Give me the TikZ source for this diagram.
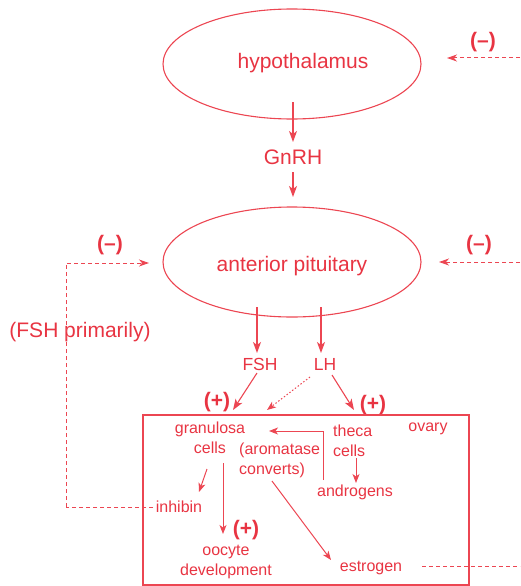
\documentclass[tikz,border=0pt]{standalone}
\usepackage{fontspec}
\setmainfont{Liberation Sans}
\usetikzlibrary{arrows.meta,shapes.geometric}
\definecolor{hred}{RGB}{232,52,66}
\definecolor{lred}{RGB}{236,70,82}
\tikzset{
  ell/.style={draw=lred, line width=1.1pt, ellipse, inner sep=0pt},
  big/.style={text=hred, font=\fontsize{21}{25}\selectfont, inner sep=0pt},
  mid/.style={text=hred, font=\fontsize{17.5}{21}\selectfont, inner sep=0pt},
  small/.style={text=hred, font=\fontsize{16}{19}\selectfont, inner sep=0pt, align=center},
  sign/.style={text=hred, font=\fontsize{21}{25}\selectfont\bfseries, inner sep=0pt},
  arr/.style={draw=lred, line width=1.1pt, -{Stealth[length=11pt,width=8pt,inset=3pt]}},
  sarr/.style={draw=lred, line width=1pt, -{Stealth[length=9pt,width=7pt,inset=2.5pt]}},
  darr/.style={draw=lred, line width=1pt, dash pattern=on 4pt off 3pt, -{Stealth[length=10pt,width=7pt,inset=3pt]}},
  dline/.style={draw=lred, line width=1pt, dash pattern=on 4pt off 3pt},
  dotarr/.style={draw=lred, line width=1pt, dash pattern=on 1.5pt off 2pt, -{Stealth[length=9pt,width=7pt,inset=2.5pt]}},
}
\begin{document}
\begin{tikzpicture}[x=1pt,y=-1pt]
\useasboundingbox (0,0) rectangle (520,586);
% ellipses
\node[ell, minimum width=258pt, minimum height=110pt] (hyp) at (292,64) {};
\node[big] (hyptxt) at (303,63) {hypothalamus};
\node[ell, minimum width=258pt, minimum height=110pt] (pit) at (292,262) {};
\node[big] (pittxt) at (292,266) {anterior pituitary};
\node[big] (gnrh) at (293,157) {GnRH};
\coordinate (h1) at (293,102);
\coordinate (h2) at (293,142);
\coordinate (g1) at (293,172);
\coordinate (g2) at (293,197);
\draw[arr] (h1) -- (h2);
\draw[arr] (g1) -- (g2);
% right negative feedback
\node[sign] (m1) at (483,42) {(–)};
\coordinate (r1a) at (520,58);
\coordinate (r1b) at (447,58);
\draw[darr] (r1a) -- (r1b);
\node[sign] (m2) at (479,245) {(–)};
\coordinate (r2a) at (520,262);
\coordinate (r2b) at (439,262);
\draw[darr] (r2a) -- (r2b);
% left feedback
\node[sign] (m3) at (110,245) {(–)};
\node[big] (fshp) at (80,332) {(FSH primarily)};
\coordinate (l0) at (153,507);
\coordinate (l1) at (66,507);
\coordinate (l2) at (66,263);
\coordinate (l3) at (149,263);
\draw[dline] (l0) -- (l1);
\draw[darr] (l1) -- (l2) -- (l3);
% FSH / LH
\node[mid] (fsh) at (260,364) {FSH};
\node[mid] (lh) at (325,364) {LH};
\coordinate (p1) at (257,307);
\coordinate (p1e) at (257,353);
\coordinate (p2) at (321,307);
\coordinate (p2e) at (321,353);
\draw[arr] (p1) -- (p1e);
\draw[arr] (p2) -- (p2e);
\coordinate (f1) at (257,373);
\coordinate (f2) at (233,410);
\draw[arr] (f1) -- (f2);
\node[sign] (pl1) at (217,402) {(+)};
\coordinate (d1) at (310,377);
\coordinate (d2) at (267,410);
\draw[dotarr] (d1) -- (d2);
\coordinate (t1) at (332,375);
\coordinate (t2) at (354,410);
\draw[arr] (t1) -- (t2);
\node[sign] (pl2) at (373,405) {(+)};
% ovary box
\draw[draw=lred, line width=1.1pt] (143,415) rectangle (469,585);
\node[small] (gran) at (210,438) {granulosa\\[1pt]cells};
\node[small, align=left, anchor=west] (theca) at (333,441) {theca\\[1pt]cells};
\node[small] (ovary) at (428,429) {ovary};
\node[small, align=left, anchor=west] (arom) at (239,460) {(aromatase\\[1pt]converts)};
\node[small] (andr) at (355,492) {androgens};
\node[small] (inh) at (179,507) {inhibin};
\node[small] (oo) at (226,562) {oocyte\\[1pt]development};
\node[small] (estr) at (371,568) {estrogen};
\node[sign] (pl3) at (246,530) {(+)};
% inner arrows
\coordinate (a1) at (323,480);
\coordinate (a2) at (269,431);
\draw[sarr] (a1) |- (a2);
\coordinate (c1) at (356,458);
\coordinate (c2) at (356,483);
\draw[sarr] (c1) -- (c2);
\coordinate (i1) at (207,469);
\coordinate (i2) at (199,492);
\draw[sarr] (i1) -- (i2);
\coordinate (o1) at (223,463);
\coordinate (o2) at (223,534);
\draw[sarr] (o1) -- (o2);
\coordinate (e1) at (272,481);
\coordinate (e2) at (331,560);
\draw[sarr] (e1) -- (e2);
\coordinate (e3) at (422,566);
\coordinate (e4) at (520,566);
\draw[dline] (e3) -- (e4);
\end{tikzpicture}
\end{document}
